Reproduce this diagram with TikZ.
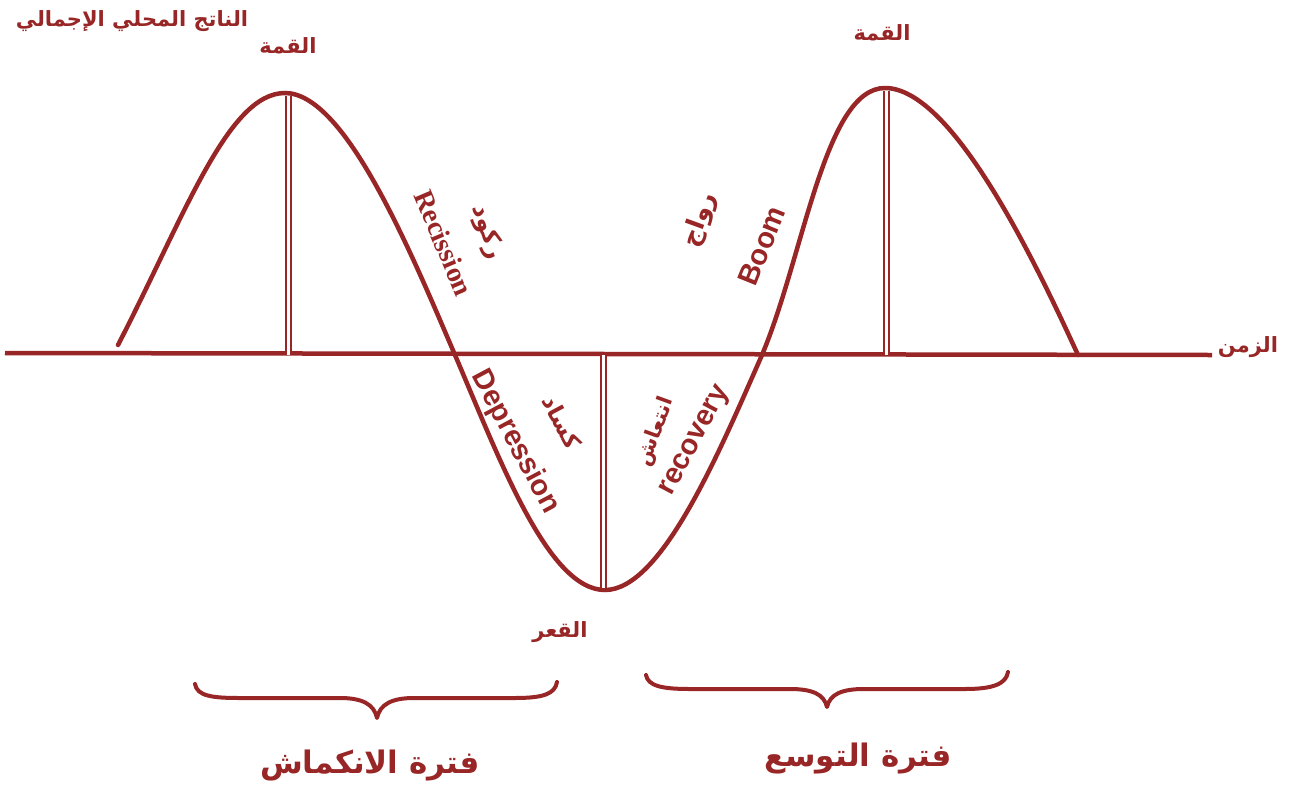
\documentclass[tikz,border=0pt]{standalone}
\usepackage{fontspec}
\setmainfont{Liberation Serif}
\newfontfamily\ar[Script=Arabic]{DejaVu Sans}
\newfontfamily\sansb{Liberation Sans}
\TeXXeTstate=1
\definecolor{cred}{RGB}{152,38,38}
\begin{document}
\begin{tikzpicture}[x=1pt,y=-1pt,
  curve/.style={draw=cred,line width=4.5pt,line cap=round},
  axisline/.style={draw=cred,line width=4.5pt},
  dbl/.style={draw=cred,line width=2pt,double=white,double distance=3pt},
  brace/.style={draw=cred,line width=4pt,line cap=round,line join=round},
  lbl/.style={text=cred,inner sep=0pt},
  ara/.style={lbl,font=\ar\bfseries\fontsize{21}{23}\selectfont},
  big/.style={lbl,font=\ar\bfseries\fontsize{31}{34}\selectfont},
  sanslbl/.style={lbl,font=\sansb\bfseries\fontsize{29}{32}\selectfont},
  seriflbl/.style={lbl,font=\bfseries\fontsize{28}{30}\selectfont}]
\useasboundingbox (0,0) rectangle (1293,785);
% axis
\coordinate (axL) at (5,353);
\coordinate (axR) at (1212,355);
\draw[axisline] (axL) -- (axR);
% cycle curve
\coordinate (c0) at (118,345);
\coordinate (p1) at (285,93);
\coordinate (x1) at (455,355);
\coordinate (t1) at (605,590);
\coordinate (x2) at (762,355);
\coordinate (p2) at (885,88);
\coordinate (c1) at (1078,355);
\draw[curve] (c0) .. controls (185,215) and (228,93) .. (p1)
  .. controls (345,93) and (410,250) .. (x1)
  .. controls (500,460) and (548,590) .. (t1)
  .. controls (662,590) and (720,450) .. (x2)
  .. controls (804,255) and (825,88) .. (p2)
  .. controls (950,88) and (1030,250) .. (c1);
% vertical double lines
\coordinate (p1b) at (288,355);
\coordinate (t1b) at (603,355);
\coordinate (p2b) at (886,355);
\draw[dbl] (288,96) -- (p1b);
\draw[dbl] (t1b) -- (603,588);
\draw[dbl] (886,91) -- (p2b);
% labels
\node[ara] (gdp) at (132,21) {\beginR الناتج المحلي الإجمالي\endR};
\node[ara] (peak1) at (288,46) {\beginR القمة\endR};
\node[ara] (peak2) at (882,33) {\beginR القمة\endR};
\node[seriflbl,rotate=-67] (rec) at (444,243) {Recission};
\node[ara,rotate=-72,font=\ar\bfseries\fontsize{24}{26}\selectfont] (rukud) at (487,232) {\beginR ركود\endR};
\node[sanslbl,rotate=68] (boom) at (762,246) {Boom};
\node[ara,rotate=70,font=\ar\bfseries\fontsize{25}{27}\selectfont] (rawaj) at (700,220) {\beginR رواج\endR};
\node[sanslbl,rotate=-62] (dep) at (515,442) {Depression};
\node[ara,rotate=-62,font=\ar\bfseries\fontsize{23}{25}\selectfont] (kasad) at (562,422) {\beginR كساد\endR};
\node[sanslbl,rotate=62] (recov) at (696,441) {recovery};
\node[ara,rotate=70] (intiash) at (656,432) {\beginR انتعاش\endR};
\node[ara] (qaar) at (560,632) {\beginR القعر\endR};
\node[ara] (zaman) at (1248,347) {\beginR الزمن\endR};
% braces
\coordinate (b1l) at (195,684);
\coordinate (b1t) at (377,718);
\coordinate (b1r) at (557,682);
\draw[brace] (b1l) .. controls (197,696) and (212,698) .. (240,698)
  -- (340,698) .. controls (362,698) and (374,704) .. (b1t)
  .. controls (380,704) and (392,698) .. (414,698)
  -- (515,698) .. controls (543,698) and (555,694) .. (b1r);
\coordinate (b2l) at (646,675);
\coordinate (b2t) at (827,707);
\coordinate (b2r) at (1008,672);
\draw[brace] (b2l) .. controls (648,686) and (662,689) .. (690,689)
  -- (790,689) .. controls (812,689) and (824,694) .. (b2t)
  .. controls (830,694) and (842,689) .. (864,689)
  -- (965,689) .. controls (993,689) and (1006,684) .. (b2r);
\node[big] (contr) at (370,765) {\beginR فترة الانكماش\endR};
\node[big] (expan) at (858,758) {\beginR فترة التوسع\endR};
\end{tikzpicture}
\end{document}
